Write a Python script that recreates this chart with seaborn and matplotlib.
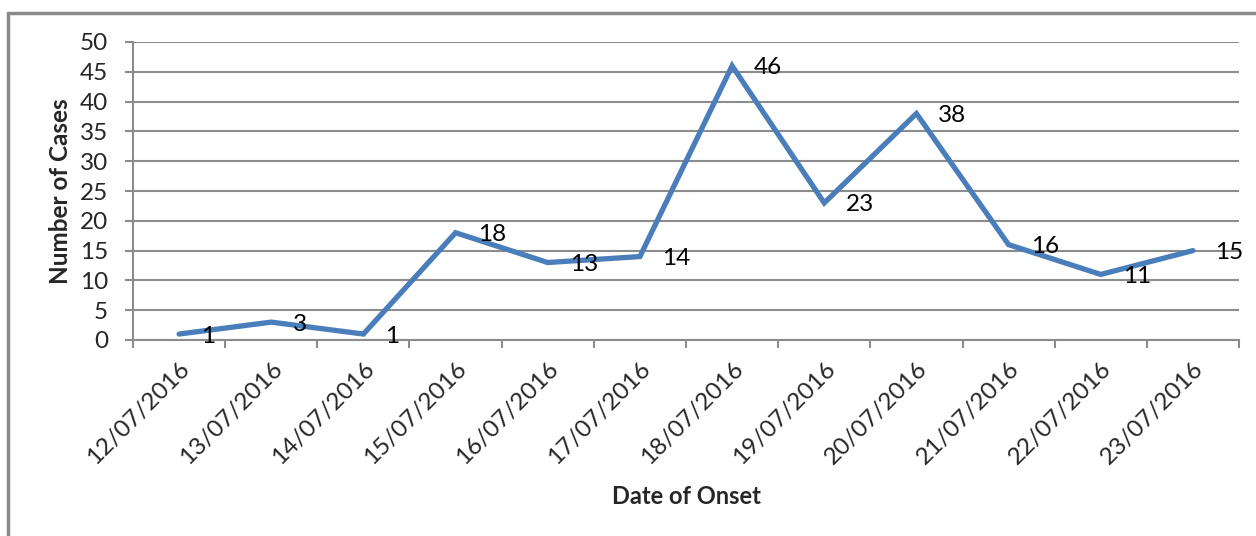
import matplotlib
matplotlib.use("Agg")
import matplotlib.pyplot as plt
import seaborn as sns
import pandas as pd
import numpy as np
from matplotlib.lines import Line2D

dates = ["12/07/2016", "13/07/2016", "14/07/2016", "15/07/2016", "16/07/2016",
         "17/07/2016", "18/07/2016", "19/07/2016", "20/07/2016", "21/07/2016",
         "22/07/2016", "23/07/2016"]
cases = [1, 3, 1, 18, 13, 14, 46, 23, 38, 16, 11, 15]
y_ticks = [0, 5, 10, 15, 20, 25, 30, 35, 40, 45, 50]

sns.set_theme(style="white")
plt.rcParams['font.family'] = ['Lato', 'DejaVu Sans']

df = pd.DataFrame({"idx": np.arange(len(dates)), "cases": cases})

fig = plt.figure(figsize=(12.56, 5.36), dpi=100)
ax = fig.add_axes([133/1256, 1-340/536, (1239-133)/1256, (340-42)/536])

line_color = "#4a7ebb"
grid_color = "#8c8c8c"

sns.lineplot(data=df, x="idx", y="cases", ax=ax, color=line_color,
             linewidth=3.8, solid_joinstyle="miter", legend=False)

for i, v in enumerate(cases):
    ax.annotate(str(v), (i, v), xytext=(22, -2), textcoords="offset pixels",
                ha="left", va="center", fontsize=17.5, color="black")

ax.set_xlim(-0.5, len(dates) - 0.5)
ax.set_ylim(0, 50)
ax.set_yticks(y_ticks)
ax.set_yticklabels([str(t) for t in y_ticks], fontsize=17.5)
ax.yaxis.grid(True, color=grid_color, linewidth=1.5)
ax.xaxis.grid(False)
ax.set_axisbelow(True)

ax.set_xticks(np.arange(len(dates)))
ax.set_xticklabels(dates, rotation=45, ha="right", rotation_mode="anchor", fontsize=17.5)
ax.set_xticks(np.arange(-0.5, len(dates), 1.0), minor=True)
ax.tick_params(axis="x", which="major", length=0, pad=13)
ax.tick_params(axis="x", which="minor", length=6, width=1.5, color=grid_color, direction="out", bottom=True)
ax.tick_params(axis="y", which="major", length=6, width=1.5, color=grid_color, direction="out", left=True, pad=12)

for s in ["top", "right"]:
    ax.spines[s].set_visible(False)
for s in ["left", "bottom"]:
    ax.spines[s].set_color(grid_color)
    ax.spines[s].set_linewidth(1.5)

ax.set_xlabel("")
ax.set_ylabel("")
fig.text(60/1256, 1-191/536, "Number of Cases", rotation=90, ha="center", va="center",
         fontsize=17.5, fontweight="bold")
fig.text(686/1256, 1-497/536, "Date of Onset", ha="center", va="center",
         fontsize=17, fontweight="bold")

# outer chart border (left and top edges visible)
fig.add_artist(Line2D([8/1256, 8/1256], [0, 1-13/536], transform=fig.transFigure,
                      color="#8a8a8a", linewidth=2.5))
fig.add_artist(Line2D([8/1256, 1], [1-13/536, 1-13/536], transform=fig.transFigure,
                      color="#8a8a8a", linewidth=2.5))

fig.savefig("out.png", dpi=100)
